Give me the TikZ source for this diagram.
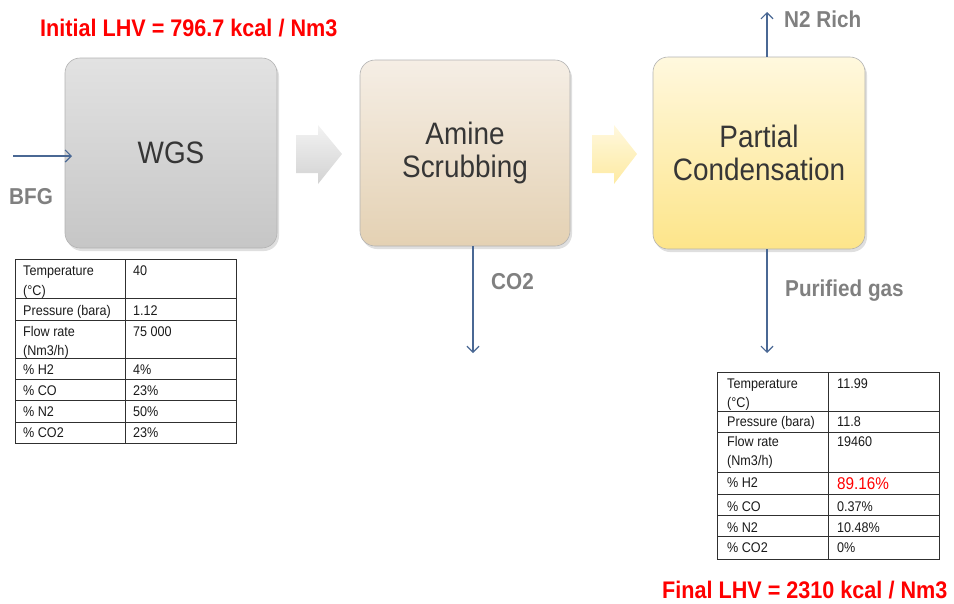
\documentclass[tikz,border=0pt]{standalone}
\usepackage{fontspec}
\setmainfont{Liberation Sans}
\newfontfamily\nar[FakeStretch=0.9]{Liberation Sans}
\usetikzlibrary{arrows.meta,shadows}
\definecolor{flowc}{HTML}{4A6894}
\definecolor{labc}{HTML}{808080}
\definecolor{boxtxt}{HTML}{363636}
\definecolor{lhvred}{HTML}{FF0000}
\definecolor{wgstop}{HTML}{E2E2E2}
\definecolor{wgsbot}{HTML}{C6C6C6}
\definecolor{amtop}{HTML}{F5EEE5}
\definecolor{ambot}{HTML}{E4D1B3}
\definecolor{pctop}{HTML}{FFF8DE}
\definecolor{pcbot}{HTML}{FDE58A}
\definecolor{tabline}{HTML}{303030}
\definecolor{tabtxt}{HTML}{1A1A1A}
\begin{document}
\begin{tikzpicture}[x=1pt,y=-1pt,
  procbox/.style={rounded corners=15pt, draw=gray!60, line width=0.6pt,
    font=\nar\fontsize{31}{33}\selectfont, text=boxtxt, align=center,
    drop shadow={opacity=0.25, shadow xshift=2pt, shadow yshift=-3pt}},
  flow/.style={draw=flowc, line width=1.2pt, -{Straight Barb[length=6pt,width=12pt]}},
  lab/.style={font=\nar\bfseries\fontsize{23}{26}\selectfont, text=labc, anchor=west, inner sep=0pt},
  lhv/.style={font=\nar\bfseries\fontsize{24}{26}\selectfont, text=lhvred, anchor=west, inner sep=0pt},
  cell/.style={font=\nar\fontsize{14}{19}\selectfont, text=tabtxt, anchor=base west, inner sep=0pt},
  grid/.style={draw=tabline, line width=0.9pt},
]
\useasboundingbox (0,0) rectangle (954,603);

% process boxes
\node[procbox, minimum width=212pt, minimum height=190pt, top color=wgstop, bottom color=wgsbot] (wgs) at (171,153) {WGS};
\node[procbox, minimum width=210pt, minimum height=186pt, top color=amtop, bottom color=ambot] (amine) at (465,153) {Amine\\Scrubbing};
\node[procbox, minimum width=212pt, minimum height=192pt, top color=pctop, bottom color=pcbot] (pcond) at (759,153) {Partial\\Condensation};

% block arrows
\shade[top color=gray!10, bottom color=gray!35] (296,135) -- (318,135) -- (318,125) -- (342,154) -- (318,184) -- (318,173) -- (296,173) -- cycle;
\shade[top color=pctop, bottom color=pcbot!80] (592,135) -- (614,135) -- (614,125) -- (637,154) -- (614,184) -- (614,173) -- (592,173) -- cycle;

% connectors
\coordinate (bfgin) at (13,156);
\coordinate (bfgend) at (72,156);
\draw[flow] (bfgin) -- (bfgend);
\coordinate (n2top) at (767,12);
\draw[flow] (pcond.north -| n2top) -- (n2top);
\coordinate (co2end) at (473,353);
\draw[flow] (amine.south -| co2end) -- (co2end);
\coordinate (pgend) at (767,353);
\draw[flow] (pcond.south -| pgend) -- (pgend);

% labels
\node[lab] (bfglab) at (9,197) {BFG};
\node[lab] (n2lab) at (784,19) {N2 Rich};
\node[lab] (co2lab) at (491,282) {CO2};
\node[lab] (pglab) at (785,291) {Purified gas};
\node[lhv] (initlhv) at (40,28) {Initial LHV = 796.7 kcal / Nm3};
\node[lhv] (finlhv) at (662,590) {Final LHV = 2310 kcal / Nm3};

% WGS inlet table
\draw[grid] (15,259) rectangle (236,443);
\foreach \y in {298,320,358,379,400,422} \draw[grid] (15,\y) -- (236,\y);
\draw[grid] (125,259) -- (125,443);
\foreach \t/\y [count=\i] in {{Temperature}/275,{(°C)}/295,{Pressure (bara)}/315,{Flow rate}/336,{(Nm3/h)}/355,{\% H2}/374,{\% CO}/395,{\% N2}/416,{\% CO2}/437}
  \node[cell] (wl\i) at (23,\y) {\t};
\foreach \t/\y [count=\i] in {{40}/275,{1.12}/315,{75 000}/336,{4\%}/374,{23\%}/395,{50\%}/416,{23\%}/437}
  \node[cell] (wv\i) at (133,\y) {\t};

% Purified gas table
\draw[grid] (717,372) rectangle (939,559);
\foreach \y in {411,432,472,494,515,536} \draw[grid] (717,\y) -- (939,\y);
\draw[grid] (828,372) -- (828,559);
\foreach \t/\y [count=\i] in {{Temperature}/388,{(°C)}/407,{Pressure (bara)}/426,{Flow rate}/446,{(Nm3/h)}/465,{\% H2}/487,{\% CO}/511,{\% N2}/532,{\% CO2}/552}
  \node[cell] (pl\i) at (727,\y) {\t};
\foreach \t/\y [count=\i] in {{11.99}/388,{11.8}/426,{19460}/446,{0.37\%}/511,{10.48\%}/532,{0\%}/552}
  \node[cell] (pv\i) at (837,\y) {\t};
\node[cell, font=\nar\fontsize{17}{19}\selectfont, text=lhvred] (ph2) at (837,489) {89.16\%};
\end{tikzpicture}
\end{document}
